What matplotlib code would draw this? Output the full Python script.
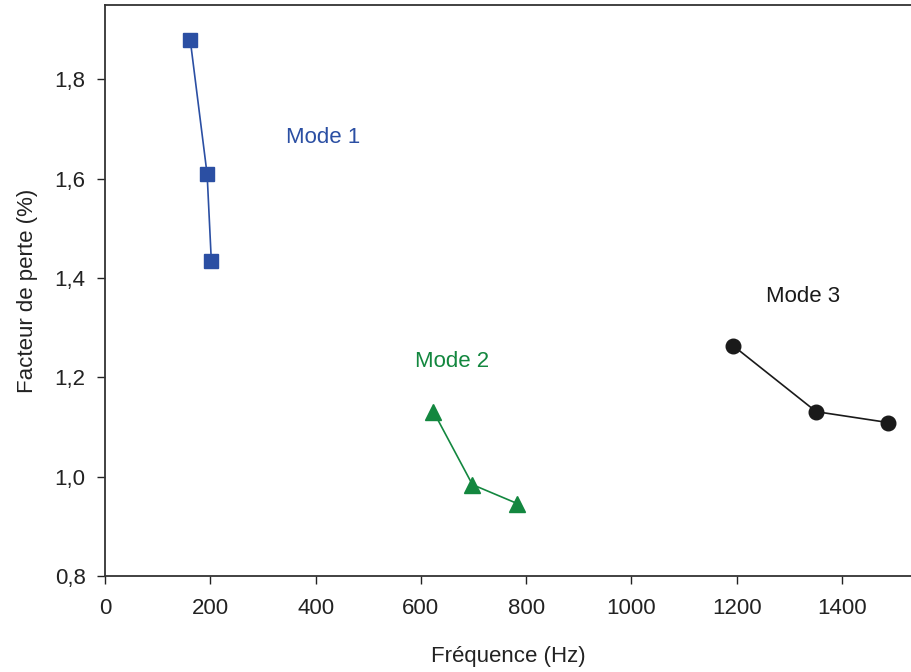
import matplotlib.pyplot as plt
from matplotlib.ticker import FuncFormatter

plt.rcParams["font.family"] = ["Liberation Sans", "DejaVu Sans"]

# data
mode1_freq = [162, 194, 202]
mode1_loss = [1.879, 1.609, 1.434]
mode2_freq = [624, 698, 783]
mode2_loss = [1.131, 0.984, 0.946]
mode3_freq = [1193, 1351, 1488]
mode3_loss = [1.264, 1.131, 1.109]

x_ticks = [0, 200, 400, 600, 800, 1000, 1200, 1400]
y_ticks = [0.8, 1.0, 1.2, 1.4, 1.6, 1.8]

blue = "#2b4fa3"
green = "#13873f"
black = "#1a1a1a"

fig = plt.figure(figsize=(9.12, 6.72), dpi=100)
ax = fig.add_axes([105 / 912, 1 - 576 / 672, 1 - 105 / 912, (576 - 5) / 672])

ax.plot(mode1_freq, mode1_loss, color=blue, lw=1.2, marker="s", ms=9.5)
ax.plot(mode2_freq, mode2_loss, color=green, lw=1.2, marker="^", ms=11)
ax.plot(mode3_freq, mode3_loss, color=black, lw=1.2, marker="o", ms=10.5)

ax.text(415, 1.683, "Mode 1", color=blue, fontsize=16, ha="center", va="center")
ax.text(660, 1.232, "Mode 2", color=green, fontsize=16, ha="center", va="center")
ax.text(1327, 1.362, "Mode 3", color=black, fontsize=16, ha="center", va="center")

ax.set_xlim(0, 1533)
ax.set_ylim(0.8, 1.95)
ax.set_xticks(x_ticks)
ax.set_yticks(y_ticks)
ax.yaxis.set_major_formatter(FuncFormatter(lambda v, p: f"{v:.1f}".replace(".", ",")))
ax.tick_params(direction="out", length=6, width=1, labelsize=16, colors="#222222")
ax.tick_params(axis="x", pad=10)
ax.tick_params(axis="y", pad=8)

for s in ["left", "bottom", "top"]:
    ax.spines[s].set_color("#333333")
    ax.spines[s].set_linewidth(1.3)
ax.spines["right"].set_visible(False)

ax.set_xlabel("Fréquence (Hz)", fontsize=16, color="#222222", labelpad=19)
ax.set_ylabel("Facteur de perte (%)", fontsize=16, color="#222222", labelpad=12)

fig.savefig("out.png", dpi=100)
